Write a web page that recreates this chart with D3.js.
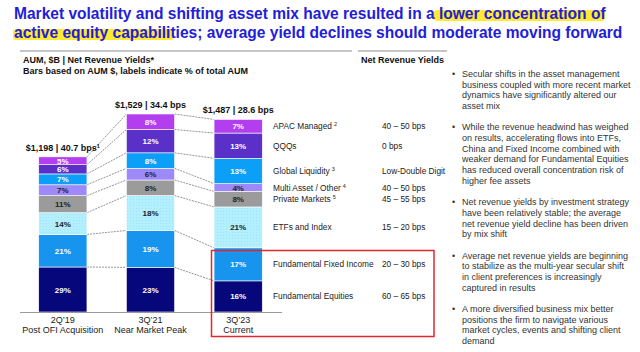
<!DOCTYPE html>
<html>
<head>
<meta charset="utf-8">
<script src="https://cdn.jsdelivr.net/npm/d3@7"></script>
<style>
  body { margin: 0; background: #fff; }
  svg { display: block; font-family: "Liberation Sans", Arial, sans-serif; }
</style>
</head>
<body>
<svg id="canvas" width="640" height="352"></svg>
<script>
// periods on the x axis
const categories = ["2Q\u201919", "3Q\u201921", "3Q\u201923"];
const subLabels = ["Post OFI Acquisition", "Near Market Peak", "Current"];
const totals = [1198, 1529, 1487];          // AUM $B
const avgYields = ["40.7", "34.4", "28.6"];   // bps
const totalNotes = ["1", "", ""];

// stack order, bottom to top
const strategies = ["Fundamental Equities", "Fundamental Fixed Income", "ETFs and Index",
  "Private Markets", "Multi Asset / Other", "Global Liquidity", "QQQs", "APAC Managed"];
const strategyNotes = ["", "", "", "5", "4", "3", "", "2"];
const strategyYields = ["60 \u2013 65 bps", "20 \u2013 30 bps", "15 \u2013 20 bps", "45 \u2013 55 bps",
  "40 \u2013 50 bps", "Low-Double Digit", "0 bps", "40 \u2013 50 bps"];
const colors = ["#07077c", "#1795ee", "url(#dots)", "#9b9b9b", "#9e89fb", "#0c9ff7", "#5a30c8", "#b23ef0"];
const darkText = [false, false, true, true, true, false, false, false];

// % of total AUM
const pct2Q19 = [29, 21, 14, 11, 7, 7, 6, 5];
const pct3Q21 = [23, 19, 18, 8, 6, 8, 12, 8];
const pct3Q23 = [16, 17, 21, 8, 4, 13, 13, 7];
const pcts = [pct2Q19, pct3Q21, pct3Q23];

const titleLines = [
  ["Market volatility and shifting asset mix have resulted in a ", "lower concentration of", ""],
  ["", "active equity capabili", "ties; average yield declines should moderate moving forward"]
];

const bullets = [
  ["Secular shifts in the asset management", "business coupled with more recent market",
   "dynamics have significantly altered our", "asset mix"],
  ["While the revenue headwind has weighed", "on results, accelerating flows into ETFs,",
   "China and Fixed Income combined with", "weaker demand for Fundamental Equities",
   "has reduced overall concentration risk of", "higher fee assets"],
  ["Net revenue yields by investment strategy", "have been relatively stable; the average",
   "net revenue yield decline has been driven", "by mix shift"],
  ["Average net revenue yields are beginning", "to stabilize as the multi-year secular shift",
   "in client preferences is increasingly", "captured in results"],
  ["A more diversified business mix better", "positions the firm to navigate various",
   "market cycles, events and shifting client", "demand"]
];

const svg = d3.select("#canvas");

const defs = svg.append("defs");
const pat = defs.append("pattern").attr("id", "dots")
  .attr("width", 3).attr("height", 3).attr("patternUnits", "userSpaceOnUse");
pat.append("rect").attr("width", 3).attr("height", 3).attr("fill", "#b2efff");
pat.append("rect").attr("x", 1).attr("y", 1).attr("width", 1).attr("height", 1).attr("fill", "#a3e2f4");

// ---- title with highlighter (condensed by a horizontal scale)
const titleX = 14, titleW = [592, 609], titleY = [19, 38];
titleLines.forEach((parts, li) => {
  const full = parts.join("");
  const meas = svg.append("text").attr("font-size", 17).attr("font-weight", "bold").text(full);
  const natural = meas.node().getComputedTextLength();
  meas.text(parts[0]);
  const pre = parts[0] ? meas.node().getComputedTextLength() : 0;
  meas.text(parts[1]);
  const mid = meas.node().getComputedTextLength();
  meas.remove();
  const k = titleW[li] / natural;
  svg.append("rect")
    .attr("x", titleX + pre * k - 1)
    .attr("y", titleY[li] - 9)
    .attr("width", mid * k + 4)
    .attr("height", 11)
    .attr("rx", 3)
    .attr("fill", "#ffe81a")
    .attr("opacity", 0.9);
  svg.append("text")
    .attr("transform", "translate(" + titleX + "," + titleY[li] + ") scale(" + k + ",1)")
    .attr("font-size", 17).attr("font-weight", "bold")
    .attr("fill", "#1f20d8")
    .text(full);
});

// ---- headers
svg.append("line").attr("x1", 20).attr("x2", 352).attr("y1", 51).attr("y2", 51)
  .attr("stroke", "#8c8c8c").attr("stroke-width", 1.2);
svg.append("line").attr("x1", 358).attr("x2", 447).attr("y1", 51).attr("y2", 51)
  .attr("stroke", "#8c8c8c").attr("stroke-width", 1.2);
svg.append("text").attr("x", 23).attr("y", 63).attr("font-size", 9).attr("font-weight", "bold")
  .attr("fill", "#111").text("AUM, $B | Net Revenue Yields*");
svg.append("text").attr("x", 23).attr("y", 74).attr("font-size", 9).attr("font-weight", "bold")
  .attr("fill", "#111").text("Bars based on AUM $, labels indicate % of total AUM");
svg.append("text").attr("x", 361).attr("y", 63).attr("font-size", 9).attr("font-weight", "bold")
  .attr("fill", "#111").text("Net Revenue Yields");

// ---- scales
const x = d3.scaleBand().domain(categories).range([19, 282]).paddingInner(0.45).paddingOuter(0.225);
const y = d3.scaleLinear().domain([0, 1529]).range([312, 114]);

// stacked segments in $B
const stacks = pcts.map((p, i) => {
  const sum = d3.sum(p);
  let acc = 0;
  return p.map((v, j) => {
    const y0 = acc;
    acc += v / sum * totals[i];
    return { cat: categories[i], idx: j, pct: v, y0: y0, y1: acc };
  });
});

// connector lines between bars
const conn = svg.append("g");
for (let i = 0; i < 2; i++) {
  stacks[i].forEach((s, j) => {
    conn.append("line")
      .attr("x1", x(categories[i]) + x.bandwidth())
      .attr("x2", x(categories[i + 1]))
      .attr("y1", y(s.y1))
      .attr("y2", y(stacks[i + 1][j].y1))
      .attr("stroke", "#7a7a7a")
      .attr("stroke-width", 0.8)
      .attr("stroke-dasharray", "2,1");
  });
}

// bars
const bars = svg.append("g");
stacks.forEach(stack => {
  const g = bars.append("g");
  g.selectAll("rect").data(stack).join("rect")
    .attr("x", d => x(d.cat))
    .attr("width", x.bandwidth())
    .attr("y", d => y(d.y1))
    .attr("height", d => y(d.y0) - y(d.y1))
    .attr("fill", d => colors[d.idx])
    .attr("stroke", "#fff")
    .attr("stroke-width", 0.6);
  g.selectAll("text").data(stack).join("text")
    .attr("x", d => x(d.cat) + x.bandwidth() / 2)
    .attr("y", d => (y(d.y0) + y(d.y1)) / 2 + 3)
    .attr("text-anchor", "middle")
    .attr("font-size", 8)
    .attr("font-weight", "bold")
    .attr("fill", d => darkText[d.idx] ? "#222" : "#fff")
    .text(d => d.pct + "%");
});

// total labels
categories.forEach((c, i) => {
  const t = svg.append("text")
    .attr("x", x(c) + x.bandwidth() / 2)
    .attr("y", y(totals[i]) - 6)
    .attr("text-anchor", "middle")
    .attr("font-size", 9)
    .attr("font-weight", "bold")
    .attr("fill", "#111")
    .text("$" + d3.format(",")(totals[i]) + " | " + avgYields[i] + " bps");
  if (totalNotes[i]) {
    t.append("tspan").attr("font-size", 5.5).attr("dy", -3).text(totalNotes[i]);
  }
});

// baseline + category labels
svg.append("line").attr("x1", 20).attr("x2", 282).attr("y1", 312.5).attr("y2", 312.5)
  .attr("stroke", "#999").attr("stroke-width", 1);
categories.forEach((c, i) => {
  const cx = x(c) + x.bandwidth() / 2;
  svg.append("text").attr("x", cx).attr("y", 323).attr("text-anchor", "middle")
    .attr("font-size", 9).attr("fill", "#222").text(c);
  svg.append("text").attr("x", cx).attr("y", 333).attr("text-anchor", "middle")
    .attr("font-size", 9).attr("fill", "#222").text(subLabels[i]);
});

// legend aligned to last bar segments
const last = stacks[2];
last.forEach((s, j) => {
  const cy = (y(s.y0) + y(s.y1)) / 2 + 3;
  const t = svg.append("text").attr("x", 273).attr("y", cy)
    .attr("font-size", 8.3).attr("fill", "#222").text(strategies[j]);
  if (strategyNotes[j]) {
    t.append("tspan").attr("dx", 2).attr("dy", -3).attr("font-size", 5.5).text(strategyNotes[j]);
  }
  svg.append("text").attr("x", 382).attr("y", cy)
    .attr("font-size", 8.3).attr("fill", "#222").text(strategyYields[j]);
});

// red highlight box
svg.append("rect").attr("x", 211.5).attr("y", 250.5).attr("width", 222.5).attr("height", 86)
  .attr("fill", "none").attr("stroke", "#e3262e").attr("stroke-width", 1.5);

// bullets
const lh = 10.68;
let line = 0;
const bg = svg.append("g").attr("font-size", 9).attr("fill", "#333");
bullets.forEach(b => {
  const by = 77 + line * lh;
  bg.append("text").attr("x", 452).attr("y", by).text("\u2022");
  b.forEach((l, k) => {
    bg.append("text").attr("x", 462).attr("y", by + k * lh).text(l);
  });
  line += b.length + 1;
});
</script>
</body>
</html>
